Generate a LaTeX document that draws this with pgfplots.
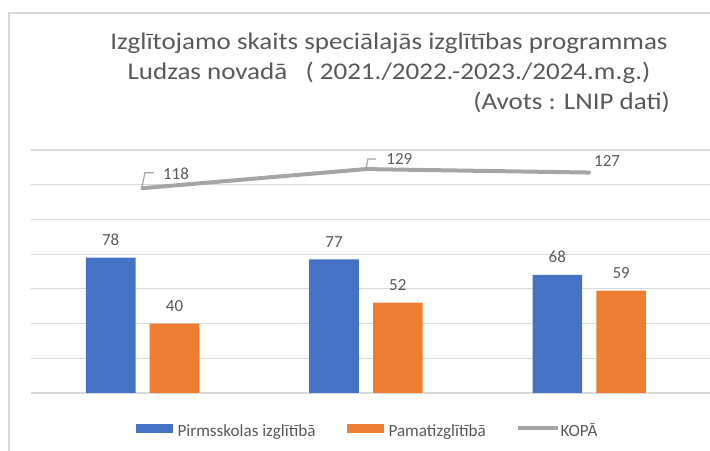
\documentclass[border=0pt]{standalone}
\usepackage{pgfplots}
\pgfplotsset{compat=1.18}
\usepackage{pgfplotstable}
\usepackage{fontspec}
\setmainfont{Carlito}
\definecolor{cblue}{HTML}{4472C4}
\definecolor{corange}{HTML}{ED7D31}
\definecolor{cgray}{HTML}{A5A5A5}
\definecolor{ctext}{HTML}{595959}
\definecolor{cgrid}{HTML}{D9D9D9}

\pgfplotstableread{
x pirms pamat
0 78 40
1 77 52
2 68 59
}\bars
\pgfplotstableread{
x kopa dx dy
0 118 18.5 9
1 129 18.5 5
2 127 3 6.5
}\total

\begin{document}
\begin{tikzpicture}[x=1bp,y=1bp]
\useasboundingbox (0,0) rectangle (710,451);
\draw[cgrid, line width=1.5bp] (9,0) -- (9,438) -- (710,438);
\begin{axis}[
  at={(31bp,58bp)}, anchor=south west,
  scale only axis, width=679bp, height=243bp,
  xmin=-0.5, xmax=2.541, ymin=0, ymax=140,
  ytick={0,20,...,140}, yticklabel=\empty, xtick=\empty,
  ymajorgrids, grid style={cgrid, line width=1.2bp},
  axis line style={draw=none}, major tick style={draw=none},
  clip=false,
  /pgf/number format/assume math mode=true,
  legend columns=3,
  legend style={draw=none, fill=none, at={(0.4978,-0.1564)}, anchor=center,
    font=\fontsize{17.2}{20}\selectfont, text=ctext, column sep=0pt,
    nodes={inner sep=0pt}},
  legend cell align=left,
]
\addplot[ybar, bar width=49.6bp, bar shift=-31.9bp, fill=cblue, draw=none,
  nodes near coords,
  every node near coord/.append style={font=\fontsize{17}{20}\selectfont, text=ctext, anchor=base, inner sep=0pt, xshift=-31.9bp, yshift=12bp},
  legend image code/.code={\fill[cblue] (0bp,-1.75bp) rectangle (37bp,6.95bp); \path (42bp,0bp);}]
  table[x=x,y=pirms]{\bars};
\addlegendentry{\makebox[169bp][l]{Pirmsskolas izglītībā}}
\addplot[ybar, bar width=49.6bp, bar shift=31.9bp, fill=corange, draw=none,
  nodes near coords,
  every node near coord/.append style={font=\fontsize{17}{20}\selectfont, text=ctext, anchor=base, inner sep=0pt, xshift=31.9bp, yshift=12bp},
  legend image code/.code={\fill[corange] (0bp,-1.75bp) rectangle (37bp,6.95bp); \path (42bp,0bp);}]
  table[x=x,y=pamat]{\bars};
\addlegendentry{\makebox[127bp][l]{Pamatizglītībā}}
\draw[cgray, line width=1.2bp] ([xshift=-1bp]axis cs:0,118) -- ([xshift=2.3bp,yshift=15.5bp]axis cs:0,118) -- ++(9bp,0bp);
\draw[cgray, line width=1.2bp] ([xshift=0bp]axis cs:1,129) -- ([xshift=2bp,yshift=10bp]axis cs:1,129) -- ++(8bp,0bp);
\addplot[cgray, line width=4bp, line cap=round, line join=round, mark=none,
  nodes near coords,
  visualization depends on={\thisrow{dx}\as\dx},
  visualization depends on={\thisrow{dy}\as\dy},
  every node near coord/.append style={font=\fontsize{17}{20}\selectfont, text=ctext, anchor=base west, inner sep=0pt, xshift=\dx bp, yshift=\dy bp},
  legend image code/.code={\draw[cgray, line width=4bp, line cap=butt] (0bp,2.6bp) -- (40bp,2.6bp); \path (41bp,2.6bp);}]
  table[x=x,y=kopa]{\total};
\addlegendentry{\makebox[42bp][l]{KOPĀ}}
\end{axis}
\begin{scope}[every node/.style={text=ctext, inner sep=0pt, font=\fontsize{24}{28}\selectfont, xscale=1.13}]
\node[anchor=base] at (389,401) {Izglītojamo skaits speciālajās izglītības programmas};
\node[anchor=base] at (389,371) {Ludzas novadā\ \ \ ( 2021./2022.-2023./2024.m.g.)};
\node[anchor=base east] at (670,341) {(Avots : LNIP dati)};
\end{scope}
\end{tikzpicture}
\end{document}
